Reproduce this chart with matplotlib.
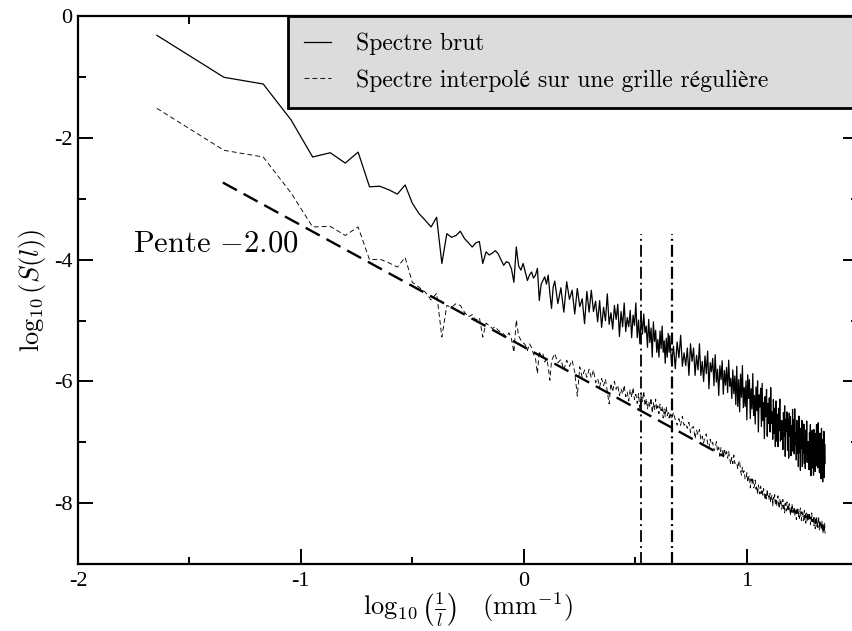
import matplotlib.pyplot as plt
import numpy as np

plt.rcParams['mathtext.fontset'] = 'cm'
plt.rcParams['lines.scale_dashes'] = False
plt.rcParams['axes.unicode_minus'] = False

# frequency grid: harmonics n * k_min (mm^-1), denser part thinned
k_min = 0.0226
harm = np.r_[1:61, 61:200:2, 200:1000:4]

# log10 S(l), raw spectrum
brut_low = [-0.31, -1.00, -1.11, -1.70, -2.31, -2.24, -2.41, -2.23, -2.80, -2.79,
            -2.85, -2.92, -2.77, -3.07, -3.24, -3.35, -3.46, -3.30, -4.06, -3.57,
            -3.63, -3.60, -3.53, -3.65, -3.72, -3.79, -3.72, -3.70, -4.06, -3.87,
            -3.92, -3.89, -3.85, -3.90, -4.00, -4.09, -4.03, -4.05, -4.15, -4.37,
            -3.79, -4.10, -4.17, -4.06, -4.20, -4.34, -4.25, -4.20, -4.30, -4.25,
            -4.14, -4.67, -4.40, -4.34, -4.28, -4.40, -4.25, -4.55, -4.80, -4.45]
brut_mid = [-4.35, -4.72, -4.46, -4.86, -4.36, -4.65, -4.50, -4.89, -4.47, -4.77,
            -4.64, -5.05, -4.52, -4.86, -4.50, -4.85, -4.68, -5.02, -4.67, -5.11,
            -4.78, -5.00, -4.56, -5.06, -4.87, -5.14, -4.75, -4.98, -4.73, -5.26,
            -4.85, -5.10, -4.71, -5.18, -4.95, -5.10, -4.83, -5.28, -4.91, -5.08,
            -4.71, -5.28, -4.99, -5.38, -4.93, -5.22, -4.89, -5.20, -5.09, -5.44,
            -4.98, -5.36, -5.12, -5.60, -5.02, -5.34, -5.16, -5.52, -5.31, -5.60,
            -5.17, -5.46, -5.09, -5.52, -5.33, -5.70, -5.29, -5.60, -5.21, -5.52]
brut_high = [-5.25, -5.71, -5.42, -5.79, -5.35, -5.61, -5.24, -5.75, -5.53, -5.74,
             -5.45, -5.90, -5.38, -5.67, -5.45, -5.90, -5.57, -5.81, -5.38, -5.90,
             -5.67, -6.00, -5.58, -5.87, -5.50, -6.12, -5.69, -5.84, -5.62, -6.07,
             -5.56, -6.01, -5.80, -6.23, -5.74, -5.97, -5.66, -6.21, -5.82, -6.06,
             -5.77, -6.18, -5.65, -6.08, -5.95, -6.28, -5.81, -6.20, -5.91, -6.38,
             -5.75, -6.41, -5.97, -6.50, -5.88, -6.26, -5.74, -6.43, -6.10, -6.41,
             -5.99, -6.63, -5.89, -6.28, -5.97, -6.61, -6.12, -6.45, -5.87, -6.56,
             -6.23, -6.70, -6.09, -6.48, -5.99, -6.83, -6.22, -6.42, -6.11, -6.74,
             -6.03, -6.64, -6.35, -6.94, -6.25, -6.58, -6.13, -6.90, -6.36, -6.69,
             -6.27, -6.83, -6.10, -6.69, -6.50, -6.95, -6.30, -6.85, -6.44, -7.07,
             -6.32, -6.98, -6.54, -7.07, -6.44, -6.81, -6.29, -6.98, -6.64, -6.95,
             -6.65, -7.12, -6.51, -6.90, -6.40, -7.23, -6.62, -6.82, -6.50, -7.13,
             -6.62, -7.26, -6.52, -6.90, -6.58, -7.22, -6.73, -7.05, -6.46, -7.15,
             -6.63, -7.19, -6.45, -7.04, -6.85, -7.29, -6.64, -7.18, -6.77, -7.40,
             -6.57, -7.17, -6.88, -7.46, -6.77, -7.09, -6.64, -7.40, -6.85, -7.17,
             -6.70, -7.35, -6.91, -7.43, -6.80, -7.17, -6.65, -7.33, -6.99, -7.29,
             -6.99, -7.45, -6.84, -7.22, -6.71, -7.55, -6.93, -7.12, -6.80, -7.42,
             -6.91, -7.54, -6.79, -7.18, -6.85, -7.48, -6.98, -7.31, -6.71, -7.39,
             -6.87, -7.42, -6.68, -7.26, -7.06, -7.50, -6.85, -7.39, -6.98, -7.60,
             -6.77, -7.37, -7.07, -7.65, -6.95, -7.28, -6.82, -7.58, -7.03, -7.35]

# spectrum interpolated on a regular grid
interp_low = [-1.51, -2.20, -2.31, -2.90, -3.46, -3.45, -3.60, -3.46, -4.00, -3.99,
              -4.05, -4.12, -3.96, -4.37, -4.45, -4.53, -4.66, -4.55, -5.27, -4.75,
              -4.78, -4.72, -4.75, -4.86, -4.94, -4.90, -4.99, -4.95, -5.27, -5.04,
              -5.08, -5.13, -5.10, -5.16, -5.19, -5.22, -5.27, -5.20, -5.30, -5.52,
              -4.99, -5.25, -5.32, -5.36, -5.40, -5.49, -5.38, -5.44, -5.55, -5.62,
              -5.87, -5.50, -5.60, -5.55, -5.68, -5.62, -5.75, -5.98, -5.66, -5.60]
interp_mid = [-5.54, -5.69, -5.64, -5.81, -5.65, -5.75, -5.65, -5.85, -6.24, -5.76,
              -5.93, -5.81, -5.93, -5.80, -5.94, -5.81, -6.02, -5.95, -6.09, -5.95,
              -6.07, -5.96, -6.17, -6.37, -6.03, -6.17, -6.00, -6.13, -6.06, -6.23,
              -6.12, -6.21, -6.06, -6.25, -6.17, -6.32, -6.13, -6.26, -6.10, -6.30,
              -6.21, -6.36, -6.20, -6.46, -6.20, -6.33, -6.16, -6.40, -6.28, -6.45,
              -6.33, -6.42, -6.27, -6.52, -6.35, -6.47, -6.29, -6.47, -6.40, -6.53,
              -6.37, -6.48, -6.41, -6.60, -6.45, -6.58, -6.41, -6.56, -6.51, -6.60]
interp_high = [-6.51, -6.62, -6.51, -6.63, -6.72, -6.61, -6.72, -6.57, -6.72, -6.69,
               -6.77, -6.67, -6.84, -6.76, -6.74, -6.94, -6.80, -6.88, -6.79, -6.96,
               -6.90, -7.01, -6.90, -6.86, -7.02, -7.09, -6.95, -7.04, -7.00, -7.14,
               -7.09, -6.99, -7.15, -7.08, -7.23, -7.08, -7.14, -7.23, -7.10, -7.22,
               -7.15, -7.26, -7.15, -7.27, -7.36, -7.25, -7.35, -7.21, -7.35, -7.33,
               -7.33, -7.44, -7.34, -7.30, -7.47, -7.54, -7.41, -7.50, -7.47, -7.61,
               -7.60, -7.50, -7.66, -7.58, -7.55, -7.75, -7.60, -7.68, -7.58, -7.75,
               -7.72, -7.62, -7.77, -7.71, -7.86, -7.70, -7.76, -7.85, -7.72, -7.84,
               -7.77, -7.87, -7.76, -7.86, -7.95, -7.83, -7.93, -7.77, -7.91, -7.88,
               -7.95, -7.84, -7.99, -7.90, -7.87, -8.05, -7.90, -7.96, -7.86, -8.02,
               -7.95, -8.05, -7.93, -7.88, -8.03, -8.09, -7.94, -8.02, -7.97, -8.10,
               -8.05, -7.94, -8.09, -8.02, -8.16, -8.00, -8.05, -8.13, -7.98, -8.10,
               -8.03, -8.12, -8.01, -8.11, -8.20, -8.07, -8.17, -8.01, -8.15, -8.11,
               -8.18, -8.06, -8.21, -8.12, -8.09, -8.27, -8.11, -8.17, -8.07, -8.23,
               -8.16, -8.25, -8.13, -8.08, -8.23, -8.29, -8.14, -8.21, -8.17, -8.29,
               -8.23, -8.12, -8.27, -8.19, -8.33, -8.16, -8.22, -8.30, -8.16, -8.27,
               -8.19, -8.28, -8.16, -8.26, -8.35, -8.23, -8.32, -8.16, -8.30, -8.27,
               -8.33, -8.21, -8.37, -8.28, -8.24, -8.42, -8.27, -8.33, -8.22, -8.38,
               -8.30, -8.40, -8.28, -8.22, -8.38, -8.44, -8.28, -8.36, -8.31, -8.44,
               -8.39, -8.29, -8.43, -8.36, -8.50, -8.34, -8.39, -8.47, -8.33, -8.50]

# slope -2 fit line (end points) and the two cut-off frequencies
fit_x = [-1.35, 0.90]
fit_y = [-2.73, -7.23]
cut_x = [0.528, 0.665]
cut_top = -3.57

x = np.log10(harm * k_min)
brut = np.array(brut_low + brut_mid + brut_high)
interp = np.array(interp_low + interp_mid + interp_high)

cm_text = ['cmr10', 'STIXGeneral']

fig = plt.figure(figsize=(8.52, 6.31), dpi=100)
ax = fig.add_axes([0.0915, 0.1062, 0.9155, 0.8677])

ax.plot(x, brut, color='black', lw=0.9, label='Spectre brut')
ax.plot(x, interp, color='black', lw=0.65, ls=(0, (3.5, 2.2)),
        label='Spectre interpolé sur une grille régulière')
ax.plot(fit_x, fit_y, color='black', lw=1.7, ls=(0, (11.5, 5.5)))
for xc, w in zip(cut_x, [1.3, 1.6]):
    ax.vlines(xc, -9, cut_top, color='black', lw=w, ls=(0, (8.6, 2.9, 1.4, 2.9)))

ax.text(-1.753, -3.86, 'Pente $-2.00$', fontsize=22, family=cm_text,
        ha='left', va='baseline')

ax.set_xlim(-2, 1.5)
ax.set_ylim(-9, 0)
ax.set_xticks([-2, -1, 0, 1])
ax.set_xticks([-1.5, -0.5, 0.5], minor=True)
ax.set_yticks([-8, -6, -4, -2, 0])
ax.set_yticks([-7, -5, -3, -1], minor=True)
ax.tick_params(which='both', direction='in', top=True, right=True, width=1.4,
               labelsize=16, labelfontfamily='Liberation Serif')
ax.tick_params(which='major', length=10.8)
ax.tick_params(which='minor', length=5.4)
ax.tick_params(axis='x', pad=6)
ax.tick_params(axis='y', pad=4)
for s in ax.spines.values():
    s.set_linewidth(1.6)

ax.set_xlabel(r'$\log_{10}\left(\frac{1}{l}\right)\quad(\mathrm{mm}^{-1})$', fontsize=19, labelpad=0)
ax.set_ylabel(r'$\log_{10}\left(S(l)\right)$', fontsize=19, labelpad=4)

leg = ax.legend(loc='upper left', bbox_to_anchor=(0.269, 0, 0.76, 1.0), mode='expand',
                borderaxespad=0, fancybox=False, facecolor='#dcdcdc', edgecolor='black',
                framealpha=1, prop={'family': cm_text, 'size': 17},
                handlelength=1.15, handletextpad=1.06, labelspacing=0.6, borderpad=0.68)
leg.get_frame().set_linewidth(2)

plt.savefig('out.png', dpi=100)
plt.close()
